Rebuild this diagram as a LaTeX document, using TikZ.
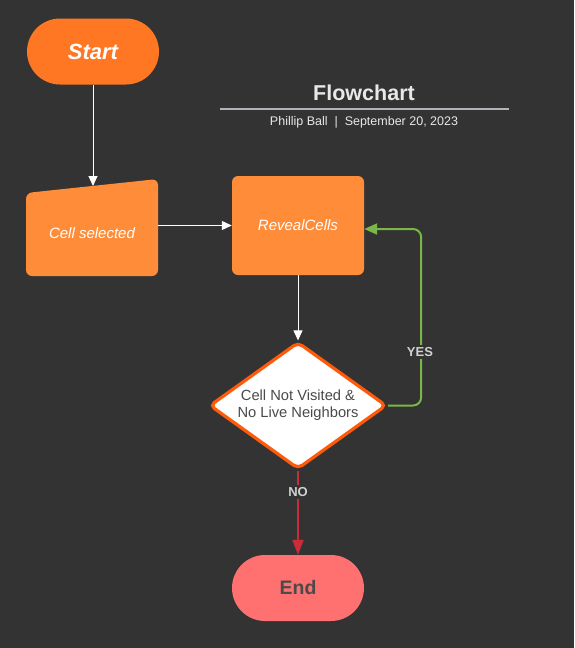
\documentclass[tikz,border=0pt]{standalone}
\usepackage{fontspec}
\setmainfont{Liberation Sans}
\usetikzlibrary{shapes.geometric, arrows.meta, positioning, calc, backgrounds}
\definecolor{canvasDark}{HTML}{333333}
\definecolor{orangeStart}{HTML}{FF7722}
\definecolor{orangeStep}{HTML}{FF8C38}
\definecolor{orangeEdge}{HTML}{FF5A0A}
\definecolor{redEnd}{HTML}{FF7070}
\definecolor{greenYes}{HTML}{7AB648}
\definecolor{redNo}{HTML}{C92D39}
\definecolor{textGrey}{HTML}{4A4A4A}
\definecolor{titleGrey}{HTML}{E8E8E8}
\definecolor{ruleGrey}{HTML}{B0B4B8}

\begin{document}
\begin{tikzpicture}[x=1pt, y=-1pt,
  every node/.style={font=\fontsize{14}{17}\selectfont, align=center},
  termNode/.style={rounded corners=33pt, minimum width=132pt, minimum height=66pt, inner sep=0pt},
  stepNode/.style={fill=orangeStep, rounded corners=6pt, minimum width=132pt, minimum height=99pt, inner sep=0pt, text=white, font=\itshape\fontsize{15}{18}\selectfont},
  decNode/.style={diamond, aspect=1.4, draw=orangeEdge, fill=white, line width=3.2pt, rounded corners=5pt, minimum width=177pt, minimum height=127pt, inner sep=0pt, text=textGrey, font=\fontsize{14.7}{17}\selectfont},
  edgeLabel/.style={fill=canvasDark, text=titleGrey!90!black, inner sep=2pt, font=\bfseries\fontsize{13}{15}\selectfont},
  flowArrow/.style={draw=white, line width=1pt, -{Triangle[length=10pt, width=9pt]}},
  yesArrow/.style={draw=greenYes, line width=2pt, rounded corners=8pt, -{Triangle[length=13pt, width=11pt]}},
  noArrow/.style={draw=redNo, line width=2pt, -{Triangle[length=15pt, width=11pt]}}
]

  % canvas
  \fill[canvasDark] (0,0) rectangle (574,648);
  \useasboundingbox (0,0) rectangle (574,648);

  % title block
  \node[text=titleGrey, font=\bfseries\fontsize{21.5}{25}\selectfont] (title) at (364,92.5) {Flowchart};
  \coordinate (ruleL) at (220,109);
  \coordinate (ruleR) at (509,109);
  \draw[ruleGrey, line width=1.5pt] (ruleL) -- (ruleR);
  \node[text=titleGrey, font=\fontsize{12.5}{15}\selectfont] (byline) at (364,122) {Phillip Ball~~|~~September 20, 2023};

  % shapes
  \node[termNode, fill=orangeStart, text=white, font=\bfseries\itshape\fontsize{22}{26}\selectfont] (start) at (93,51.5) {Start};

  \fill[orangeStep, rounded corners=6pt] (26,193) -- (158,179) -- (158,276) -- (26,276) -- cycle;
  \node[minimum width=132pt, inner sep=0pt, text=white, font=\itshape\fontsize{15}{18}\selectfont] (sel) at (92,233) {Cell selected};
  \coordinate (selTop) at (93,186);

  \node[stepNode] (reveal) at (298,225.5) {RevealCells};

  \node[decNode] (dec) at (298,405.5) {Cell Not Visited \&\\No Live Neighbors};

  \node[termNode, fill=redEnd, text=textGrey, font=\bfseries\fontsize{19.5}{23}\selectfont] (finish) at (298,588) {End};

  % connectors
  \draw[flowArrow] (start.south) -- (selTop);
  \draw[flowArrow] (sel.east |- reveal.west) -- (reveal.west);
  \draw[flowArrow] (reveal) -- (dec);
  \draw[yesArrow] (dec.east) -- ++(33,0) |- ($(reveal.east)+(0,3.5)$);
  \draw[noArrow] (dec.south) -- (finish.north);

  \node[edgeLabel] (yesLabel) at (420,352) {YES};
  \node[edgeLabel] (noLabel) at (298,492) {NO};

\end{tikzpicture}
\end{document}
